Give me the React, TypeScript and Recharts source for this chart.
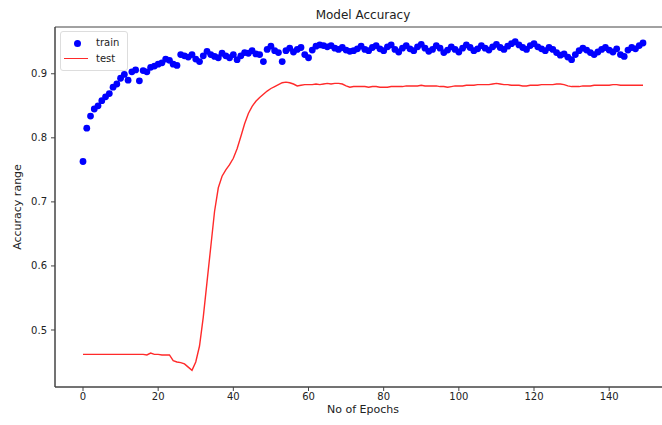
import { ComposedChart, Line, ReferenceArea, XAxis, YAxis } from "recharts";

const train = [
  0.763, 0.815, 0.834, 0.845, 0.85, 0.858, 0.864, 0.869, 0.879, 0.884,
  0.893, 0.899, 0.89, 0.903, 0.906, 0.889, 0.905, 0.903, 0.91, 0.912,
  0.915, 0.917, 0.923, 0.921, 0.915, 0.913, 0.93, 0.928, 0.926, 0.93,
  0.923, 0.919, 0.928, 0.935, 0.93, 0.927, 0.925, 0.932, 0.928, 0.925,
  0.93, 0.922, 0.928, 0.933, 0.932, 0.936, 0.931, 0.93, 0.919, 0.938,
  0.943, 0.936, 0.933, 0.919, 0.936, 0.94, 0.934, 0.938, 0.941, 0.93,
  0.925, 0.937, 0.943, 0.945, 0.944, 0.942, 0.944, 0.94, 0.938, 0.941,
  0.937, 0.935, 0.936, 0.939, 0.943, 0.938, 0.936, 0.941, 0.944, 0.939,
  0.936, 0.942, 0.945, 0.938, 0.934, 0.94, 0.944, 0.939, 0.936, 0.942,
  0.946, 0.94, 0.935, 0.938, 0.944, 0.94, 0.933, 0.937, 0.942, 0.938,
  0.934, 0.94, 0.945, 0.941, 0.936, 0.939, 0.944, 0.94, 0.937, 0.942,
  0.946, 0.941, 0.938, 0.943, 0.947, 0.95, 0.945, 0.941, 0.938, 0.944,
  0.947, 0.942, 0.939, 0.936, 0.941, 0.938, 0.933, 0.929, 0.931, 0.926,
  0.922, 0.93, 0.936, 0.94, 0.937, 0.933, 0.93, 0.934, 0.938, 0.941,
  0.937, 0.934, 0.939, 0.93, 0.927, 0.937, 0.941, 0.939, 0.944, 0.948,
];

const test = [
  0.462, 0.462, 0.462, 0.462, 0.462, 0.462, 0.462, 0.462, 0.462, 0.462,
  0.462, 0.462, 0.462, 0.462, 0.462, 0.462, 0.462, 0.461, 0.464, 0.462,
  0.462, 0.461, 0.461, 0.461, 0.452, 0.45, 0.449, 0.447, 0.442, 0.437,
  0.45, 0.475, 0.52, 0.575, 0.63, 0.685, 0.722, 0.74, 0.75, 0.758,
  0.768, 0.783, 0.802, 0.822, 0.838, 0.849, 0.857, 0.863, 0.868, 0.873,
  0.877, 0.88, 0.883, 0.886, 0.887, 0.886, 0.884, 0.881, 0.882, 0.883,
  0.883, 0.883, 0.884, 0.883, 0.884, 0.885, 0.884, 0.885, 0.885, 0.884,
  0.881, 0.879, 0.88, 0.88, 0.88, 0.88, 0.879, 0.88, 0.88, 0.879,
  0.879, 0.879, 0.88, 0.88, 0.88, 0.88, 0.881, 0.881, 0.881, 0.881,
  0.882, 0.881, 0.881, 0.881, 0.881, 0.88, 0.88, 0.879, 0.88, 0.881,
  0.881, 0.881, 0.882, 0.882, 0.882, 0.883, 0.883, 0.883, 0.883, 0.884,
  0.885, 0.884, 0.883, 0.883, 0.882, 0.882, 0.882, 0.881, 0.881, 0.882,
  0.882, 0.882, 0.883, 0.883, 0.883, 0.883, 0.884, 0.884, 0.883, 0.881,
  0.88, 0.88, 0.88, 0.881, 0.881, 0.881, 0.882, 0.882, 0.882, 0.882,
  0.882, 0.883, 0.883, 0.882, 0.882, 0.882, 0.882, 0.882, 0.882, 0.882,
];

const xTicks = [0, 20, 40, 60, 80, 100, 120, 140];
const yTicks = [0.5, 0.6, 0.7, 0.8, 0.9];

const data = train.map((value, i) => ({ epoch: i, train: value, test: test[i] }));

const font = "'DejaVu Sans', sans-serif";
const axisColor = "#444";

export default function App() {
  return (
    <div
      style={{
        position: "absolute",
        left: 0,
        top: 0,
        width: 662,
        height: 425,
        overflow: "hidden",
        background: "#fff",
        fontFamily: font,
        color: "#222",
      }}
    >
      <ComposedChart width={680} height={425} data={data} margin={{ top: 27, right: 9, left: 0, bottom: 0 }}>
        <XAxis
          type="number"
          dataKey="epoch"
          domain={[-7.45, 156.45]}
          ticks={xTicks}
          allowDataOverflow
          height={38}
          tickSize={4}
          tickMargin={2}
          stroke={axisColor}
          tick={{ fill: "#222", fontSize: 10, fontFamily: font }}
        />
        <YAxis
          type="number"
          domain={[0.411, 0.973]}
          ticks={yTicks}
          allowDataOverflow
          width={55}
          tickSize={4}
          tickMargin={4}
          stroke={axisColor}
          tickFormatter={(v) => Number(v).toFixed(1)}
          tick={{ fill: "#222", fontSize: 10, fontFamily: font }}
        />
        <ReferenceArea x1={-7.45} x2={156.45} y1={0.411} y2={0.973} fill="none" stroke={axisColor} strokeWidth={1} />
        <Line
          dataKey="test"
          stroke="#ff2a2a"
          strokeWidth={1.4}
          dot={false}
          activeDot={false}
          isAnimationActive={false}
        />
        <Line
          dataKey="train"
          stroke="none"
          dot={{ r: 3.4, fill: "#0000ff", stroke: "none" }}
          activeDot={false}
          isAnimationActive={false}
        />
      </ComposedChart>

      <div style={{ position: "absolute", left: 0, width: 726, top: 8, textAlign: "center", fontSize: 12 }}>
        Model Accuracy
      </div>
      <div style={{ position: "absolute", left: 0, width: 726, top: 403, textAlign: "center", fontSize: 11 }}>
        No of Epochs
      </div>
      <div
        style={{
          position: "absolute",
          left: 17,
          top: 207,
          fontSize: 11,
          whiteSpace: "nowrap",
          transform: "translate(-50%, -50%) rotate(-90deg)",
        }}
      >
        Accuracy range
      </div>

      <div
        style={{
          position: "absolute",
          left: 60,
          top: 31,
          width: 66,
          height: 38,
          border: "1px solid #ddd",
          borderRadius: 3,
          background: "rgba(255,255,255,0.85)",
          fontSize: 10,
        }}
      >
        <div style={{ position: "absolute", left: 13, top: 8, width: 7, height: 7, borderRadius: "50%", background: "#0000ff" }} />
        <div style={{ position: "absolute", left: 35, top: 4, lineHeight: "14px" }}>train</div>
        <div style={{ position: "absolute", left: 3, top: 26, width: 24, height: 1.4, background: "#ff2a2a" }} />
        <div style={{ position: "absolute", left: 35, top: 20, lineHeight: "14px" }}>test</div>
      </div>
    </div>
  );
}
